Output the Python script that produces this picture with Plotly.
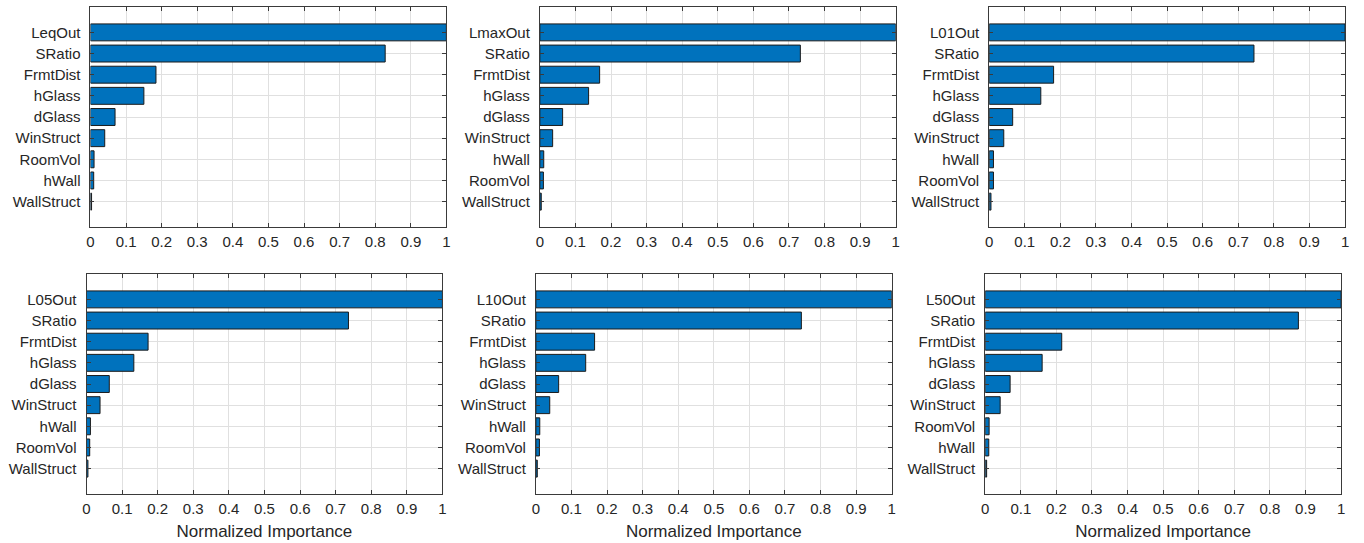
import plotly.graph_objects as go

W, H = 1364, 543

# ---- data (top -> bottom order as displayed) ----
cats1 = ["LeqOut", "SRatio", "FrmtDist", "hGlass", "dGlass", "WinStruct", "RoomVol", "hWall", "WallStruct"]
vals1 = [1.0, 0.828, 0.184, 0.150, 0.069, 0.040, 0.010, 0.009, 0.003]

cats2 = ["LmaxOut", "SRatio", "FrmtDist", "hGlass", "dGlass", "WinStruct", "hWall", "RoomVol", "WallStruct"]
vals2 = [1.0, 0.732, 0.168, 0.137, 0.064, 0.036, 0.011, 0.010, 0.004]

cats3 = ["L01Out", "SRatio", "FrmtDist", "hGlass", "dGlass", "WinStruct", "hWall", "RoomVol", "WallStruct"]
vals3 = [1.0, 0.744, 0.181, 0.145, 0.066, 0.041, 0.012, 0.012, 0.005]

cats4 = ["L05Out", "SRatio", "FrmtDist", "hGlass", "dGlass", "WinStruct", "hWall", "RoomVol", "WallStruct"]
vals4 = [1.0, 0.736, 0.173, 0.133, 0.064, 0.038, 0.011, 0.009, 0.004]

cats5 = ["L10Out", "SRatio", "FrmtDist", "hGlass", "dGlass", "WinStruct", "hWall", "RoomVol", "WallStruct"]
vals5 = [1.0, 0.746, 0.165, 0.140, 0.064, 0.039, 0.011, 0.010, 0.004]

cats6 = ["L50Out", "SRatio", "FrmtDist", "hGlass", "dGlass", "WinStruct", "RoomVol", "hWall", "WallStruct"]
vals6 = [1.0, 0.880, 0.215, 0.160, 0.070, 0.042, 0.011, 0.010, 0.004]

x_ticks = [0, 0.1, 0.2, 0.3, 0.4, 0.5, 0.6, 0.7, 0.8, 0.9, 1]
x_tick_labels = ["0", "0.1", "0.2", "0.3", "0.4", "0.5", "0.6", "0.7", "0.8", "0.9", "1"]
x_title = "Normalized Importance"

panels = [(cats1, vals1), (cats2, vals2), (cats3, vals3),
          (cats4, vals4), (cats5, vals5), (cats6, vals6)]

# ---- layout geometry (pixels) ----
row_y = [(7, 227), (274, 494)]
col_x = [[(87, 445), (539, 897), (991, 1349)],
         [(83, 441), (535, 893), (987, 1345)]]

FONT = "Liberation Sans, Arial, Helvetica, sans-serif"
TXT = "#262626"
AX = "#3a3a3a"
GRID = "#e0e0e0"

fig = go.Figure()
layout = dict(
    width=W, height=H,
    margin=dict(l=0, r=0, t=0, b=0),
    paper_bgcolor="white", plot_bgcolor="white",
    showlegend=False,
    font=dict(family=FONT, size=15, color=TXT),
    bargap=0.2,
)

for i, (cats, vals) in enumerate(panels):
    r, c = divmod(i, 3)
    n = i + 1
    xa = "x" if n == 1 else f"x{n}"
    ya = "y" if n == 1 else f"y{n}"
    fig.add_trace(go.Bar(
        x=vals, y=cats, orientation="h",
        marker=dict(color="#0072BD", line=dict(color="#1a1a1a", width=1)),
        width=0.8,
        xaxis=xa, yaxis=ya, hoverinfo="x+y",
    ))
    x0, x1 = col_x[r][c]
    y0, y1 = row_y[r]
    xkey = "xaxis" if n == 1 else f"xaxis{n}"
    ykey = "yaxis" if n == 1 else f"yaxis{n}"
    layout[xkey] = dict(
        domain=[x0 / W, x1 / W], anchor=ya,
        range=[0, 1], tickvals=x_ticks, ticktext=x_tick_labels,
        showgrid=True, gridcolor=GRID, gridwidth=1,
        zeroline=False,
        showline=True, linecolor=AX, linewidth=1, mirror="ticks",
        ticks="inside", ticklen=4, tickcolor=AX,
        tickfont=dict(size=15, color=TXT),
        ticklabelstandoff=1,
        title=dict(text=x_title, font=dict(size=17, color=TXT), standoff=9) if r == 1 else None,
    )
    layout[ykey] = dict(
        domain=[1 - y1 / H, 1 - y0 / H], anchor=xa,
        type="category", categoryorder="array", categoryarray=list(reversed(cats)),
        range=[-1.2, 9.2],
        showgrid=True, gridcolor=GRID, gridwidth=1,
        zeroline=False,
        showline=True, linecolor=AX, linewidth=1, mirror="ticks",
        ticks="inside", ticklen=4, tickcolor=AX,
        tickfont=dict(size=15, color=TXT),
        ticklabelstandoff=6,
    )

fig.update_layout(**layout)
fig.write_html("out.html")
